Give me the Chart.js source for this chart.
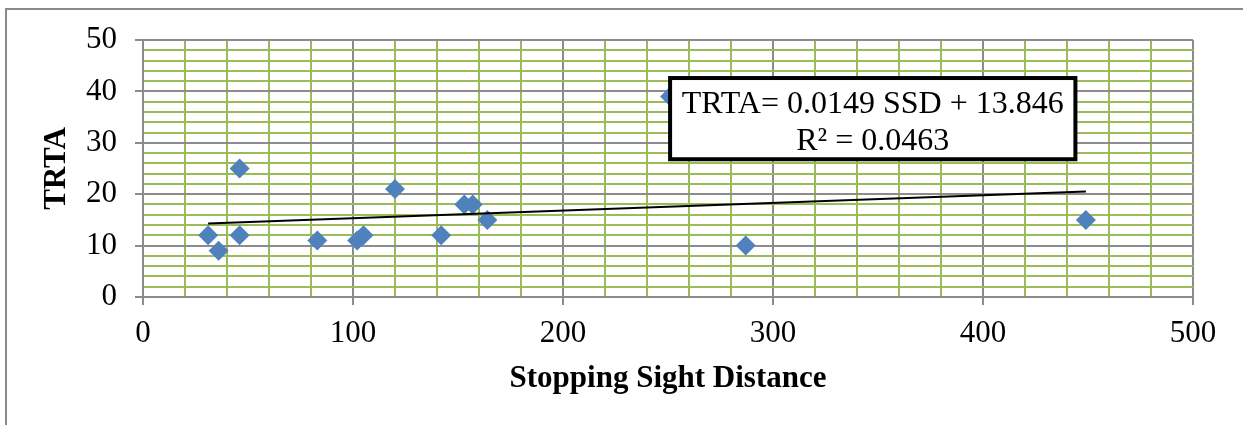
<!DOCTYPE html>
<html>
<head>
<meta charset="utf-8">
<script src="https://cdn.jsdelivr.net/npm/chart.js@4/dist/chart.umd.min.js"></script>
<style>
  html, body { margin: 0; padding: 0; background: #fff; }
  canvas { display: block; }
</style>
</head>
<body>
<canvas id="ssdChart" width="1243" height="425"></canvas>
<script>
// stopping sight distance vs TRTA
const ssd  = [31, 36, 46, 46, 83, 102, 105, 120, 142, 153, 157, 164, 251, 287, 449];
const trta = [12,  9, 25, 12, 11,  11,  12,  21,  12,  18,  18,  15,  39,  10,  15];

// linear fit reported on the chart
const slope = 0.0149;
const intercept = 13.846;
const rSquared = 0.0463;

const xTicksMajor = 100, xTicksMinor = 20;
const yTicksMajor = 10,  yTicksMinor = 2;

const SERIF = '"Liberation Serif", "Times New Roman", serif';
const GRAY = '#8c8c8c';
const GREEN = '#9bbb59';
const BLUE = '#4f81bd';

const points = ssd.map((x, i) => ({x: x, y: trta[i]}));
const xMin = Math.min(...ssd), xMax = Math.max(...ssd);
const fitLine = [
  {x: xMin, y: slope * xMin + intercept},
  {x: xMax, y: slope * xMax + intercept}
];

// gray frame on the left and top of the chart object
const frame = {
  id: 'frame',
  beforeDraw(chart) {
    const ctx = chart.ctx;
    ctx.save();
    ctx.fillStyle = '#fff';
    ctx.fillRect(0, 0, chart.width, chart.height);
    ctx.strokeStyle = '#8a8a8a';
    ctx.lineWidth = 2;
    ctx.beginPath();
    ctx.moveTo(6, chart.height);
    ctx.lineTo(6, 9);
    ctx.lineTo(chart.width, 9);
    ctx.stroke();
    ctx.restore();
  }
};

// equation box, placed in data units
const eqBox = {
  id: 'eqBox',
  afterDatasetsDraw(chart) {
    const {ctx, scales: {x, y}} = chart;
    const left = x.getPixelForValue(251), right = x.getPixelForValue(444);
    const top = y.getPixelForValue(42.6), bottom = y.getPixelForValue(26.8);
    ctx.save();
    ctx.fillStyle = '#fff';
    ctx.fillRect(left, top, right - left, bottom - top);
    ctx.strokeStyle = '#000';
    ctx.lineWidth = 4;
    ctx.strokeRect(left, top, right - left, bottom - top);
    ctx.fillStyle = '#000';
    ctx.font = '32px ' + SERIF;
    ctx.textAlign = 'center';
    ctx.textBaseline = 'alphabetic';
    const cx = (left + right) / 2;
    ctx.fillText('TRTA= ' + slope + ' SSD + ' + intercept, cx, top + 35);
    ctx.fillText('R\u00b2 = ' + rSquared, cx, top + 72);
    ctx.restore();
  }
};

const isMajor = (v, step) => Math.abs(v / step - Math.round(v / step)) < 1e-6;

new Chart(document.getElementById('ssdChart').getContext('2d'), {
  data: {
    datasets: [
      {
        type: 'line',
        data: fitLine,
        borderColor: '#000',
        borderWidth: 2,
        pointRadius: 0,
        fill: false,
        order: 0
      },
      {
        type: 'scatter',
        data: points,
        pointStyle: 'rectRot',
        pointRadius: 10,
        backgroundColor: BLUE,
        borderColor: BLUE,
        borderWidth: 0,
        order: 1
      }
    ]
  },
  options: {
    responsive: false,
    animation: false,
    layout: { padding: { left: 0, top: 40, right: 50, bottom: 0 } },
    plugins: { legend: { display: false }, tooltip: { enabled: false } },
    scales: {
      x: {
        type: 'linear',
        min: 0, max: 500,
        afterFit(s) { s.height = 128; },
        ticks: {
          stepSize: xTicksMinor,
          autoSkip: false,
          maxRotation: 0,
          padding: 10,
          color: '#000',
          font: { family: SERIF, size: 31 },
          callback: v => isMajor(v, xTicksMajor) ? v : ''
        },
        grid: {
          lineWidth: 2,
          tickLength: 8,
          color: c => isMajor(c.tick.value, xTicksMajor) ? GRAY : GREEN,
          tickColor: c => isMajor(c.tick.value, xTicksMajor) ? GRAY : 'rgba(0,0,0,0)'
        },
        border: { color: GRAY, width: 2 },
        title: {
          display: true,
          text: 'Stopping Sight Distance',
          color: '#000',
          font: { family: SERIF, size: 31, weight: 'bold' },
          padding: { top: 0, bottom: 27 }
        }
      },
      y: {
        type: 'linear',
        min: 0, max: 50,
        afterFit(s) { s.width = 143; },
        ticks: {
          stepSize: yTicksMinor,
          autoSkip: false,
          padding: 18,
          color: '#000',
          font: { family: SERIF, size: 31 },
          callback: v => isMajor(v, yTicksMajor) ? v : ''
        },
        grid: {
          lineWidth: 2,
          tickLength: 8,
          color: c => isMajor(c.tick.value, yTicksMajor) ? GRAY : GREEN,
          tickColor: c => isMajor(c.tick.value, yTicksMajor) ? GRAY : 'rgba(0,0,0,0)'
        },
        border: { color: GRAY, width: 2 },
        title: {
          display: true,
          text: 'TRTA',
          color: '#000',
          font: { family: SERIF, size: 31, weight: 'bold' },
          padding: { top: 38, bottom: 0 }
        }
      }
    }
  },
  plugins: [frame, eqBox]
});
</script>
</body>
</html>
